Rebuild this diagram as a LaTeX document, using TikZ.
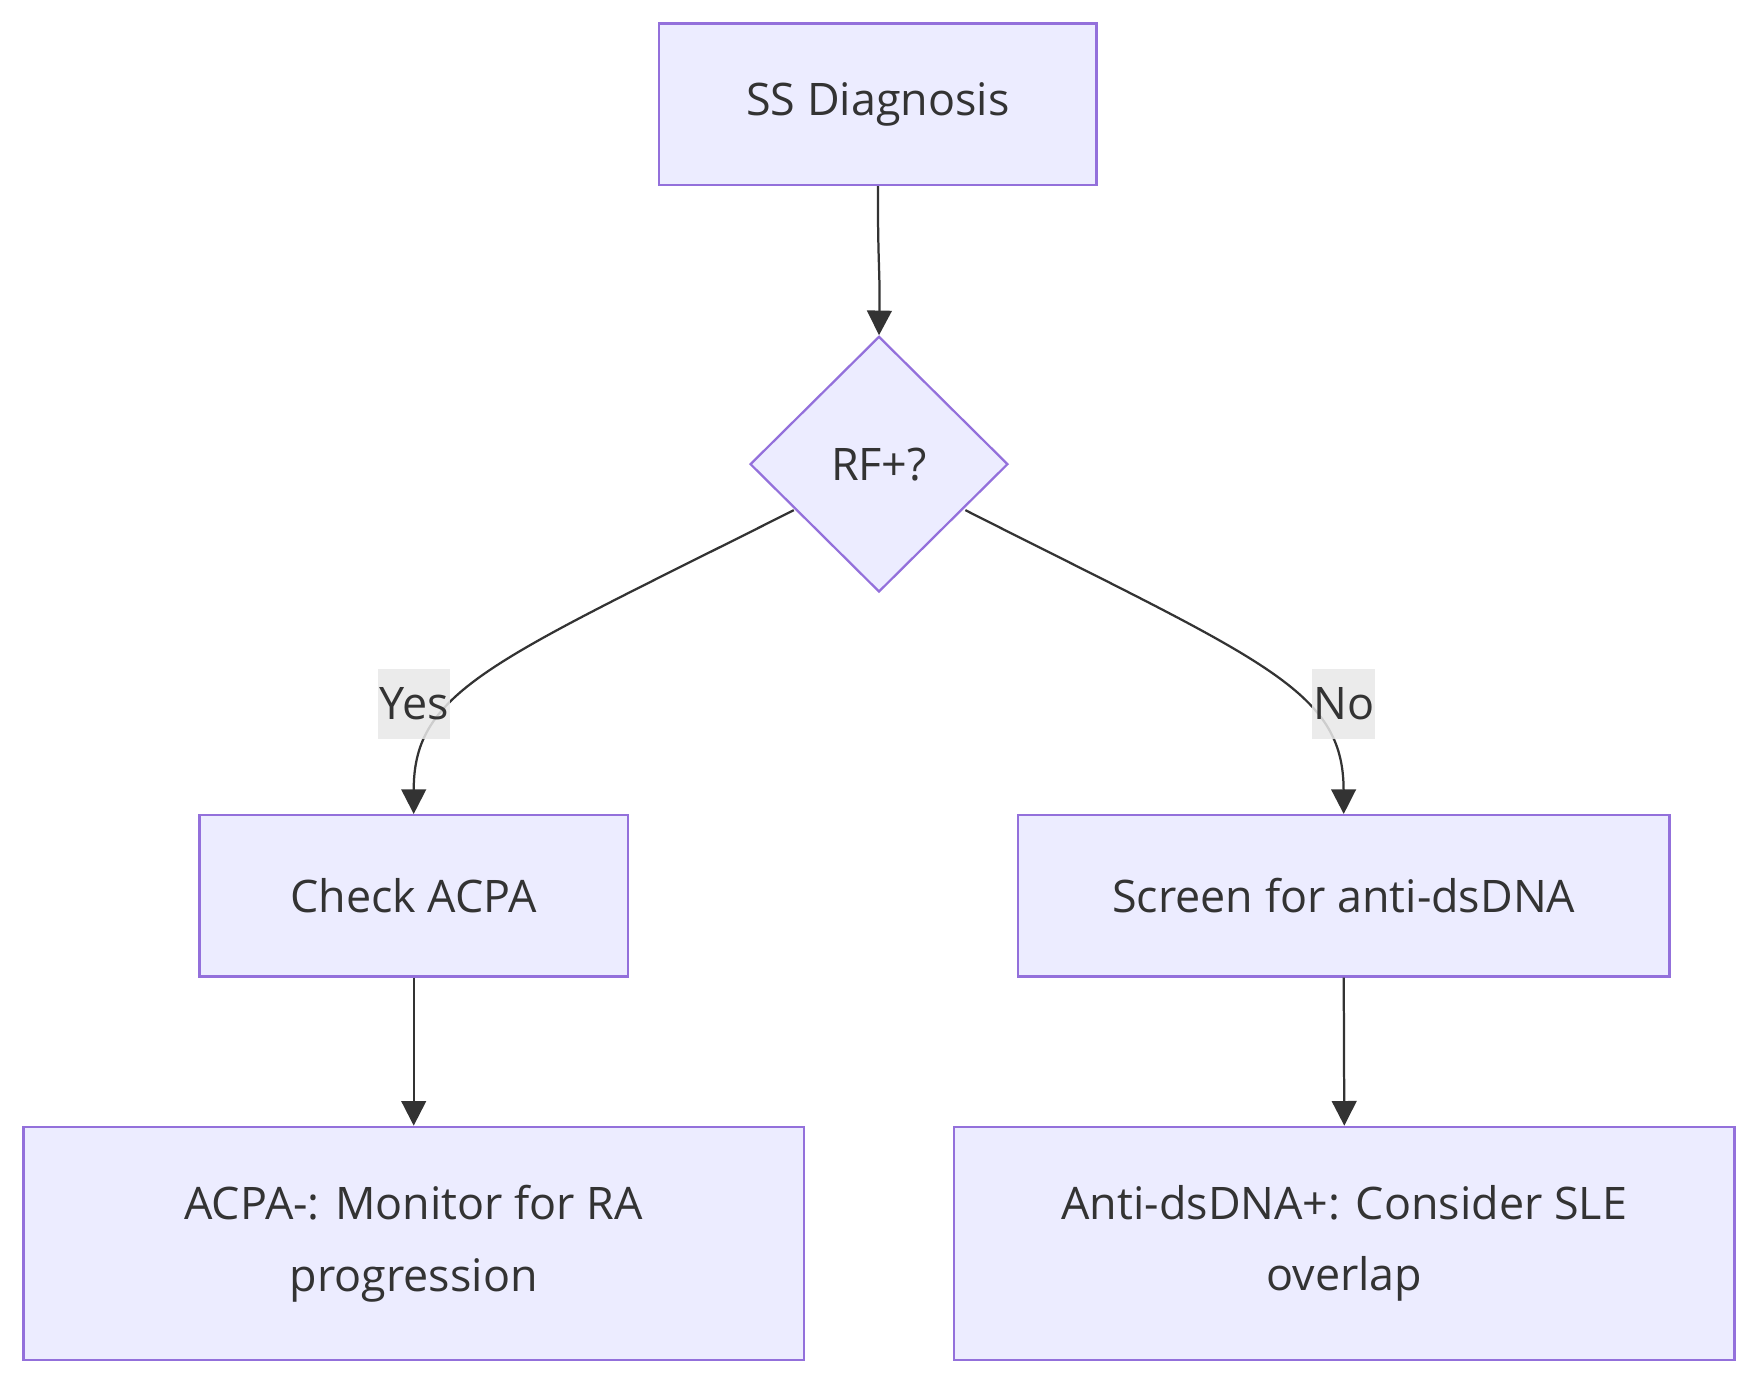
\documentclass[tikz,border=0pt]{standalone}
\usepackage{fontspec}
\setmainfont{Open Sans}
\usetikzlibrary{shapes.geometric,arrows.meta}
\definecolor{nodefill}{HTML}{ECECFF}
\definecolor{nodeline}{HTML}{9370DB}
\definecolor{edgeline}{HTML}{333333}
\definecolor{lblbg}{HTML}{E8E8E8}
\begin{document}
\begin{tikzpicture}[x=1pt,y=-1pt,
  box/.style={draw=nodeline,fill=nodefill,line width=2pt,rectangle,inner sep=0pt,text=edgeline,align=center,font=\fontsize{40}{64}\selectfont},
  dia/.style={draw=nodeline,fill=nodefill,line width=2pt,diamond,inner sep=0pt,minimum width=230pt,minimum height=228pt,text=edgeline,font=\fontsize{40}{64}\selectfont},
  edge/.style={draw=edgeline,line width=2pt,-{Triangle[length=22pt,width=22pt]}},
  lbl/.style={fill=lblbg,fill opacity=0.85,text opacity=1,text=edgeline,inner sep=1pt,minimum height=62pt,font=\fontsize{40}{44}\selectfont}]
\useasboundingbox (0,0) rectangle (1568,1235);
\node[box,minimum width=390pt,minimum height=144pt] (ss) at (783,93) {SS Diagnosis};
\node[dia] (rf) at (784,414) {RF+?};
\node[box,minimum width=382pt,minimum height=144pt] (ca) at (369,799) {Check ACPA};
\node[box,minimum width=581pt,minimum height=144pt] (sc) at (1198.5,799) {Screen for anti-dsDNA};
\node[box,minimum width=696pt,minimum height=208pt] (am) at (369,1109) {ACPA-: Monitor for RA\\progression};
\node[box,minimum width=696pt,minimum height=208pt] (ad) at (1199,1109) {Anti-dsDNA+: Consider SLE\\overlap};
\coordinate (yl) at (708,455);
\coordinate (nl) at (861,455);
\draw[edge] (ss.south) .. controls (783,240) and (785,240) .. (rf.north);
\draw[edge] (yl) .. controls (440,590) and (369,615) .. (ca.north);
\draw[edge] (nl) .. controls (1128,590) and (1198,615) .. (sc.north);
\draw[edge] (ca.south) -- (am.north);
\draw[edge] (sc.south) -- (ad.north);
\node[lbl] (yes) at (369.5,628) {Yes};
\node[lbl] (no) at (1198.5,628) {No};
\end{tikzpicture}
\end{document}
